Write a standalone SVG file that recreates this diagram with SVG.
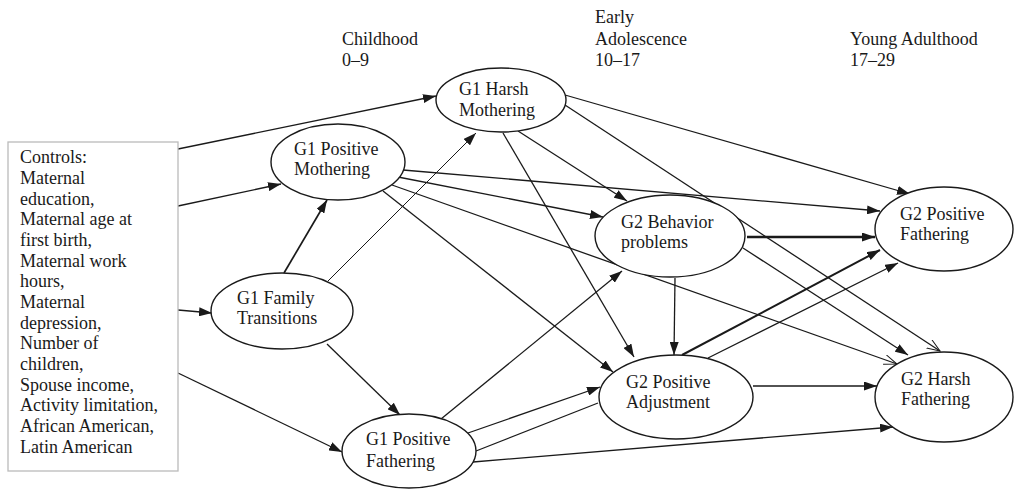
<svg xmlns="http://www.w3.org/2000/svg" width="1015" height="491" viewBox="0 0 1015 491">
<style>
text{font-family:"Liberation Serif","Times New Roman",serif;font-size:18px;fill:#1a1a1a}
.node ellipse{fill:#fff;stroke:#1a1a1a;stroke-width:1.4}
#connectors line{stroke:#1a1a1a;stroke-width:1.3;fill:none}
.f{marker-end:url(#af)}
.o{marker-end:url(#ao)}
</style>
<defs>
<marker id="af" markerUnits="userSpaceOnUse" markerWidth="13" markerHeight="9" viewBox="0 0 13 9" refX="13" refY="4.5" orient="auto"><path d="M0,0 L13,4.5 L0,9 z" fill="#1a1a1a"/></marker>
<marker id="ao" markerUnits="userSpaceOnUse" markerWidth="14" markerHeight="11" viewBox="0 0 14 11" refX="13" refY="5.5" orient="auto"><path d="M0,0.5 L13,5.5 L0,10.5" fill="none" stroke="#1a1a1a" stroke-width="1"/></marker>
</defs>
<rect width="1015" height="491" fill="#fff"/>
<g id="headers">
<text x="342" y="45">Childhood</text>
<text x="342" y="66">0–9</text>
<text x="595" y="23">Early</text>
<text x="595" y="45">Adolescence</text>
<text x="595" y="66">10–17</text>
<text x="850" y="45">Young Adulthood</text>
<text x="850" y="66">17–29</text>
</g>
<g id="connectors">
<line class="f" x1="178" y1="149" x2="436" y2="96"/>
<line class="f" x1="178" y1="206" x2="281" y2="184"/>
<line class="f" x1="178" y1="310" x2="212" y2="313"/>
<line class="f" x1="178" y1="373" x2="342" y2="452"/>
<line class="f" x1="284" y1="273" x2="327" y2="200" style="stroke-width:1.7"/>
<line class="f" x1="328" y1="281" x2="476" y2="133" style="stroke-width:1"/>
<line class="f" x1="327" y1="344" x2="400" y2="415"/>
<line class="f" x1="441" y1="419" x2="622" y2="271"/>
<line class="f" x1="468" y1="433" x2="600" y2="387"/>
<line x1="476" y1="451" x2="598" y2="403"/>
<line class="f" x1="473" y1="462" x2="893" y2="427"/>
<line class="f" x1="398" y1="177" x2="603" y2="217"/>
<line class="f" x1="403" y1="170" x2="880" y2="211"/>
<line class="f" x1="383" y1="191" x2="613" y2="372"/>
<line class="o" x1="392" y1="185" x2="897" y2="364"/>
<line class="f" x1="565" y1="95" x2="910" y2="194"/>
<line class="o" x1="565" y1="105" x2="940" y2="351"/>
<line class="f" x1="518" y1="131" x2="627" y2="201"/>
<line class="f" x1="503" y1="133" x2="634" y2="357"/>
<line class="f" x1="747" y1="237" x2="875" y2="237" style="stroke-width:2.5"/>
<line class="f" x1="743" y1="248" x2="908" y2="355"/>
<line class="f" x1="675" y1="278" x2="674" y2="355"/>
<line class="f" x1="682" y1="355" x2="880" y2="250" style="stroke-width:2"/>
<line class="f" x1="708" y1="358" x2="898" y2="263"/>
<line class="f" x1="753" y1="386" x2="877" y2="386"/>
</g>
<g id="controls">
<rect x="8" y="142" width="170" height="329" fill="#fff" stroke="#bbbbbb" stroke-width="1.3"/>
<text x="20" y="163">Controls:</text>
<text x="20" y="184">Maternal</text>
<text x="20" y="205">education,</text>
<text x="20" y="225">Maternal age at</text>
<text x="20" y="246">first birth,</text>
<text x="20" y="267">Maternal work</text>
<text x="20" y="287">hours,</text>
<text x="20" y="308">Maternal</text>
<text x="20" y="329">depression,</text>
<text x="20" y="349">Number of</text>
<text x="20" y="370">children,</text>
<text x="20" y="391">Spouse income,</text>
<text x="20" y="411">Activity limitation,</text>
<text x="20" y="432">African American,</text>
<text x="20" y="453">Latin American</text>
</g>
<g id="g1-harsh-mothering" class="node">
<ellipse cx="501" cy="100" rx="65" ry="32"/>
<text x="459" y="95">G1 Harsh</text>
<text x="459" y="116">Mothering</text>
</g>
<g id="g1-positive-mothering" class="node">
<ellipse cx="338" cy="162" rx="67" ry="38"/>
<text x="294" y="155">G1 Positive</text>
<text x="294" y="175">Mothering</text>
</g>
<g id="g1-family-transitions" class="node">
<ellipse cx="282" cy="311" rx="71" ry="38"/>
<text x="237" y="304">G1 Family</text>
<text x="237" y="324">Transitions</text>
</g>
<g id="g1-positive-fathering" class="node">
<ellipse cx="409" cy="451" rx="67" ry="37"/>
<text x="366" y="445">G1 Positive</text>
<text x="366" y="467">Fathering</text>
</g>
<g id="g2-behavior-problems" class="node">
<ellipse cx="670" cy="236" rx="75" ry="41"/>
<text x="621" y="228">G2 Behavior</text>
<text x="621" y="248">problems</text>
</g>
<g id="g2-positive-adjustment" class="node">
<ellipse cx="676" cy="397" rx="77" ry="42"/>
<text x="626" y="388">G2 Positive</text>
<text x="626" y="408">Adjustment</text>
</g>
<g id="g2-positive-fathering" class="node">
<ellipse cx="944" cy="229" rx="69" ry="42"/>
<text x="900" y="220">G2 Positive</text>
<text x="900" y="240">Fathering</text>
</g>
<g id="g2-harsh-fathering" class="node">
<ellipse cx="944" cy="397" rx="69" ry="45"/>
<text x="901" y="385">G2 Harsh</text>
<text x="901" y="405">Fathering</text>
</g>
</svg>
